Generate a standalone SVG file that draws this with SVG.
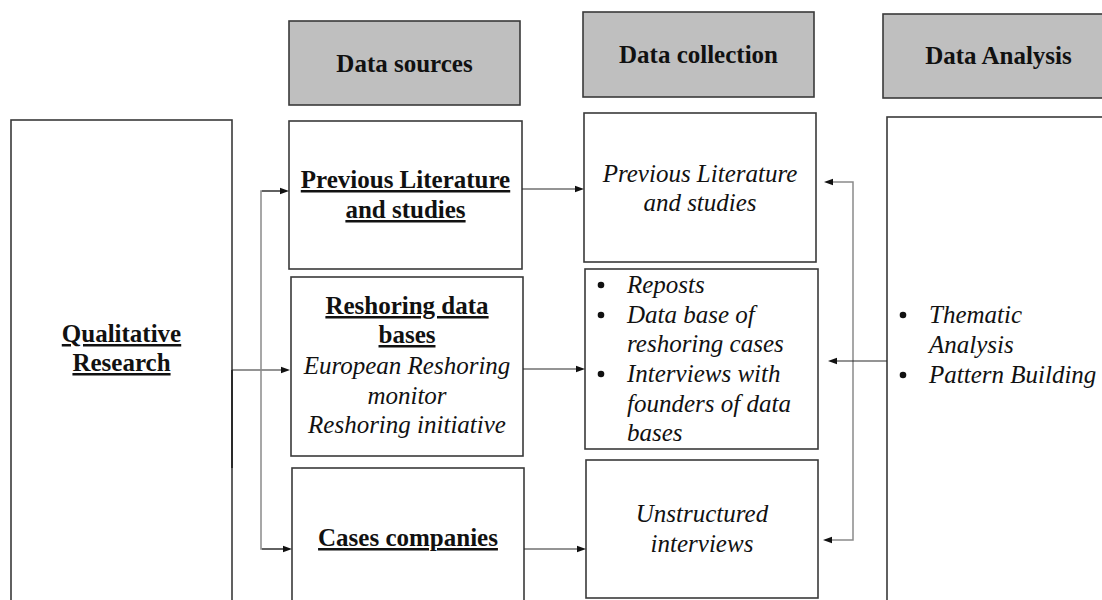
<svg xmlns="http://www.w3.org/2000/svg" width="1102" height="600" viewBox="0 0 1102 600">
<style>
  svg text, svg g text, #diagram g text { font-family: "Liberation Serif", "Times New Roman", serif !important; font-size: 25px; fill: #111; }
  .b { font-weight: bold; }
  .u { text-decoration: underline; }
  .i { font-style: italic; }
  .c { text-anchor: middle; }
</style>
<rect width="1102" height="600" fill="#fff"/>
<g id="diagram">
<g id="hdr-sources">
  <rect fill="#bfbfbf" stroke="#3a3a3a" stroke-width="1.6" x="289" y="21" width="231" height="84"/>
  <text style="font-family:'Liberation Serif',serif" class="b c" x="404.5" y="72">Data sources</text>
</g>
<g id="hdr-collection">
  <rect fill="#bfbfbf" stroke="#3a3a3a" stroke-width="1.6" x="583" y="12" width="231" height="85"/>
  <text style="font-family:'Liberation Serif',serif" class="b c" x="698.5" y="63">Data collection</text>
</g>
<g id="hdr-analysis">
  <rect fill="#bfbfbf" stroke="#3a3a3a" stroke-width="1.6" x="883" y="14" width="231" height="84"/>
  <text style="font-family:'Liberation Serif',serif" class="b c" x="998.5" y="64">Data Analysis</text>
</g>

<g id="qualitative">
  <rect fill="#fff" stroke="#3a3a3a" stroke-width="1.6" x="11" y="120" width="221" height="500"/>
  <text style="font-family:'Liberation Serif',serif" class="b u c" x="121.5" y="342">Qualitative</text>
  <text style="font-family:'Liberation Serif',serif" class="b u c" x="121.5" y="371">Research</text>
</g>

<g id="src-literature">
  <rect fill="#fff" stroke="#3a3a3a" stroke-width="1.6" x="289" y="121" width="233" height="148"/>
  <text style="font-family:'Liberation Serif',serif" class="b u c" x="405.5" y="188">Previous Literature</text>
  <text style="font-family:'Liberation Serif',serif" class="b u c" x="405.5" y="218">and studies</text>
</g>
<g id="src-databases">
  <rect fill="#fff" stroke="#3a3a3a" stroke-width="1.6" x="291" y="277" width="232" height="179"/>
  <text style="font-family:'Liberation Serif',serif" class="b u c" x="407" y="314">Reshoring data</text>
  <text style="font-family:'Liberation Serif',serif" class="b u c" x="407" y="343">bases</text>
  <text style="font-family:'Liberation Serif',serif" class="i c" x="407" y="374">European Reshoring</text>
  <text style="font-family:'Liberation Serif',serif" class="i c" x="407" y="404">monitor</text>
  <text style="font-family:'Liberation Serif',serif" class="i c" x="407" y="433">Reshoring initiative</text>
</g>
<g id="src-cases">
  <rect fill="#fff" stroke="#3a3a3a" stroke-width="1.6" x="292" y="468" width="232" height="150"/>
  <text style="font-family:'Liberation Serif',serif" class="b u c" x="408" y="546">Cases companies</text>
</g>

<g id="col-literature">
  <rect fill="#fff" stroke="#3a3a3a" stroke-width="1.6" x="584" y="113" width="232" height="149"/>
  <text style="font-family:'Liberation Serif',serif" class="i c" x="700" y="182">Previous Literature</text>
  <text style="font-family:'Liberation Serif',serif" class="i c" x="700" y="211">and studies</text>
</g>
<g id="col-databases">
  <rect fill="#fff" stroke="#3a3a3a" stroke-width="1.6" x="585" y="269" width="233" height="180"/>
  <circle cx="601" cy="285" r="3.3" fill="#111"/>
  <text style="font-family:'Liberation Serif',serif" class="i" x="627" y="293">Reposts</text>
  <circle cx="601" cy="315" r="3.3" fill="#111"/>
  <text style="font-family:'Liberation Serif',serif" class="i" x="627" y="323">Data base of</text>
  <text style="font-family:'Liberation Serif',serif" class="i" x="627" y="352">reshoring cases</text>
  <circle cx="601" cy="374" r="3.3" fill="#111"/>
  <text style="font-family:'Liberation Serif',serif" class="i" x="627" y="382">Interviews with</text>
  <text style="font-family:'Liberation Serif',serif" class="i" x="627" y="412">founders of data</text>
  <text style="font-family:'Liberation Serif',serif" class="i" x="627" y="441">bases</text>
</g>
<g id="col-interviews">
  <rect fill="#fff" stroke="#3a3a3a" stroke-width="1.6" x="586" y="460" width="232" height="138"/>
  <text style="font-family:'Liberation Serif',serif" class="i c" x="702" y="522">Unstructured</text>
  <text style="font-family:'Liberation Serif',serif" class="i c" x="702" y="552">interviews</text>
</g>

<g id="analysis">
  <rect fill="#fff" stroke="#3a3a3a" stroke-width="1.6" x="887" y="117" width="233" height="503"/>
  <circle cx="903" cy="315" r="3.3" fill="#111"/>
  <text style="font-family:'Liberation Serif',serif" class="i" x="929" y="323">Thematic</text>
  <text style="font-family:'Liberation Serif',serif" class="i" x="929" y="353">Analysis</text>
  <circle cx="903" cy="375" r="3.3" fill="#111"/>
  <text style="font-family:'Liberation Serif',serif" class="i" x="929" y="383">Pattern Building</text>
</g>

<g id="connectors" fill="none">
  <line stroke="#2a2a2a" stroke-width="1.1" x1="232" y1="370" x2="282" y2="370"/>
  <line stroke="#2a2a2a" stroke-width="2" x1="232" y1="370" x2="232" y2="468"/>
  <polyline stroke="#8a8a8a" stroke-width="1.5" points="281,191 261,191 261,549 283,549"/>
  <line stroke="#2a2a2a" stroke-width="1.1" x1="262" y1="191" x2="281" y2="191"/>
  <line stroke="#2a2a2a" stroke-width="1.1" x1="262" y1="549" x2="284" y2="549"/>
  <line stroke="#2a2a2a" stroke-width="1.1" x1="522" y1="189" x2="576" y2="189"/>
  <line stroke="#2a2a2a" stroke-width="1.1" x1="523" y1="369" x2="577" y2="369"/>
  <line stroke="#2a2a2a" stroke-width="1.1" x1="524" y1="549" x2="578" y2="549"/>
  <polyline stroke="#8a8a8a" stroke-width="1.5" points="832,182 853,182 853,540 831,540"/>
  <line stroke="#2a2a2a" stroke-width="1.1" x1="887" y1="361" x2="836" y2="361"/>
  <g fill="#111" stroke="none">
    <path d="M290,370 L281,366.8 L281,373.2 Z"/>
    <path d="M289,191 L280,187.8 L280,194.2 Z"/>
    <path d="M292,549 L283,545.8 L283,552.2 Z"/>
    <path d="M584,189 L575,185.8 L575,192.2 Z"/>
    <path d="M585,369 L576,365.8 L576,372.2 Z"/>
    <path d="M586,549 L577,545.8 L577,552.2 Z"/>
    <path d="M824,182 L833,178.8 L833,185.2 Z"/>
    <path d="M823,540 L832,536.8 L832,543.2 Z"/>
    <path d="M828,361 L837,357.8 L837,364.2 Z"/>
  </g>
</g>
</g>
</svg>
